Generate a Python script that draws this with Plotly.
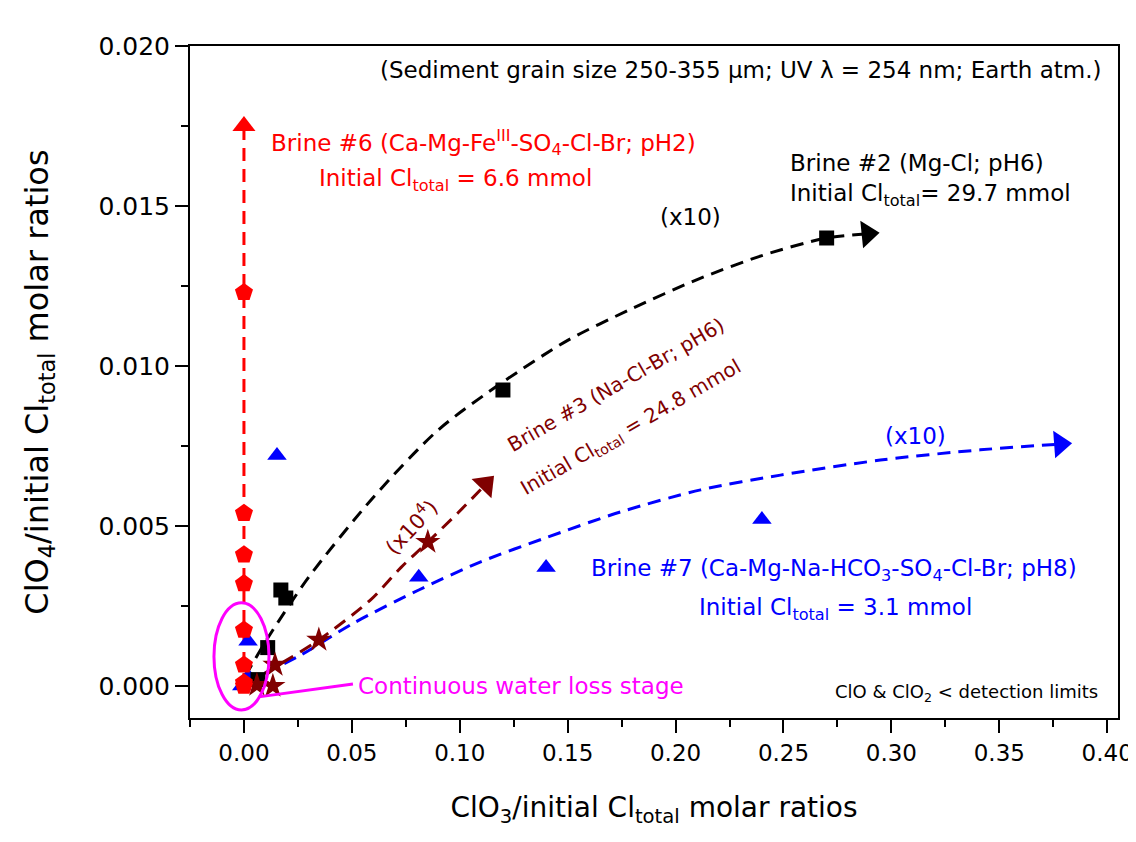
import plotly.graph_objects as go

# ---------------- data ----------------
# Brine #6 (red pentagons)
b6_x = [0.0, 0.0, 0.0, 0.0, 0.0, 0.0, 0.0, 0.0]
b6_y = [0.0123, 0.0054, 0.0041, 0.0032, 0.00175, 0.00066, 0.0001, 0.0]
b6_line_x = [0.0, 0.0]
b6_line_y = [0.0, 0.0175]

# Brine #2 (black squares)
b2_x = [0.0065, 0.011, 0.0171, 0.0194, 0.12, 0.27]
b2_y = [0.0002, 0.0012, 0.0030, 0.00275, 0.00925, 0.0140]
b2_line_x = [0.0005, 0.012, 0.03, 0.06, 0.09, 0.12, 0.15, 0.18, 0.21, 0.24, 0.27, 0.289]
b2_line_y = [0.0003, 0.0016, 0.0034, 0.0059, 0.0080, 0.0095, 0.0108, 0.0118, 0.0127,
             0.01345, 0.0140, 0.01413]

# Brine #3 (brown stars)
b3_x = [0.006, 0.0134, 0.0144, 0.0347, 0.0852]
b3_y = [0.00003, 0.0, 0.00066, 0.00144, 0.0045]
b3_line_x = [0.001, 0.0171, 0.0347, 0.0588, 0.0727, 0.0852, 0.099, 0.112]
b3_line_y = [0.00005, 0.0007, 0.00144, 0.0027, 0.0037, 0.0045, 0.0054, 0.0063]

# Brine #7 (blue triangles)
b7_x = [-0.001, 0.002, 0.0019, 0.0153, 0.081, 0.140, 0.24]
b7_y = [0.0, 0.0003, 0.0014, 0.0072, 0.0034, 0.0037, 0.0052]
b7_line_x = [0.001, 0.0264, 0.0509, 0.081, 0.1097, 0.1398, 0.1745, 0.2116,
             0.2486, 0.2949, 0.3412, 0.3782]
b7_line_y = [0.000125, 0.00097, 0.00197, 0.0030, 0.00388, 0.00463, 0.00544, 0.00613,
             0.00659, 0.00706, 0.00738, 0.00756]

# magenta pointer from ellipse to its label
ptr_x = [0.0069, 0.0505]
ptr_y = [-0.00034, 0.00006]
ell_x = [-0.0139, 0.0116]
ell_y = [-0.00075, 0.0026]

x_ticks = [0.00, 0.05, 0.10, 0.15, 0.20, 0.25, 0.30, 0.35, 0.40]
y_ticks = [0.000, 0.005, 0.010, 0.015, 0.020]

FONT = "DejaVu Sans, Arial, sans-serif"
RED, BLACK, BROWN, BLUE, MAG = "#FF0000", "#000000", "#800000", "#0000FF", "#FF00FF"
DASH = "13px,8px"
ASZ = 23  # annotation font size

fig = go.Figure()


def dashed(xs, ys, color, arrow_size):
    fig.add_trace(go.Scatter(x=xs, y=ys, mode="lines",
                             line=dict(color=color, width=3, dash=DASH, shape="spline", smoothing=0.8),
                             hoverinfo="skip", showlegend=False))
    sizes = [0] * (len(xs) - 1) + [arrow_size]
    fig.add_trace(go.Scatter(x=xs, y=ys, mode="markers",
                             marker=dict(symbol="triangle-up", size=sizes, color=color, opacity=1,
                                         angleref="previous", line=dict(width=0)),
                             hoverinfo="skip", showlegend=False))


dashed(b6_line_x, b6_line_y, RED, 20)
dashed(b2_line_x, b2_line_y, BLACK, 24)
dashed(b7_line_x, b7_line_y, BLUE, 24)
dashed(b3_line_x, b3_line_y, BROWN, 24)

fig.add_trace(go.Scatter(x=b7_x, y=b7_y, mode="markers",
                         marker=dict(symbol="triangle-up", size=17, color=BLUE, line=dict(width=0)),
                         showlegend=False))
fig.add_trace(go.Scatter(x=b2_x, y=b2_y, mode="markers",
                         marker=dict(symbol="square", size=15, color=BLACK, line=dict(width=0)),
                         showlegend=False))
fig.add_trace(go.Scatter(x=b3_x, y=b3_y, mode="markers",
                         marker=dict(symbol="star", size=19, color=BROWN, line=dict(width=0)),
                         showlegend=False))
fig.add_trace(go.Scatter(x=b6_x, y=b6_y, mode="markers",
                         marker=dict(symbol="pentagon", size=19, color=RED, line=dict(width=0)),
                         showlegend=False))
fig.add_trace(go.Scatter(x=ptr_x, y=ptr_y, mode="lines",
                         line=dict(color=MAG, width=3), showlegend=False, hoverinfo="skip"))

fig.add_shape(type="circle", xref="x", yref="y", x0=ell_x[0], x1=ell_x[1],
              y0=ell_y[0], y1=ell_y[1], line=dict(color=MAG, width=3), layer="above")


def ann(text, x, y, color, xanchor="center", angle=0, size=ASZ):
    fig.add_annotation(x=x, y=y, xref="x", yref="y", text=text, showarrow=False,
                       xanchor=xanchor, yanchor="middle", textangle=angle,
                       font=dict(family=FONT, size=size, color=color))


ann("(Sediment grain size 250-355 \u03bcm; UV \u03bb = 254 nm; Earth atm.)", 0.398, 0.01925, BLACK, "right")
ann("Brine #6 (Ca-Mg-Fe<sup>III</sup>-SO<sub>4</sub>-Cl-Br; pH2)", 0.0116, 0.01697, RED, "left")
ann("Initial Cl<sub>total</sub> = 6.6 mmol", 0.098, 0.01581, RED)
ann("Brine #2 (Mg-Cl; pH6)", 0.2519, 0.01634, BLACK, "left")
ann("Initial Cl<sub>total</sub>= 29.7 mmol", 0.2519, 0.01534, BLACK, "left")
ann("(x10)", 0.207, 0.01466, BLACK)
ann("Brine #3 (Na-Cl-Br; pH6)", 0.1722, 0.0094, BROWN, angle=-30, size=20)
ann("Initial Cl<sub>total</sub> = 24.8 mmol", 0.1792, 0.00806, BROWN, angle=-30, size=20)
ann("(x10<sup>4</sup>)", 0.0773, 0.0050, BROWN, angle=-47, size=21)
ann("(x10)", 0.311, 0.0078, BLUE)
ann("Brine #7 (Ca-Mg-Na-HCO<sub>3</sub>-SO<sub>4</sub>-Cl-Br; pH8)", 0.1597, 0.003625, BLUE, "left")
ann("Initial Cl<sub>total</sub> = 3.1 mmol", 0.274, 0.0024, BLUE)
ann("ClO & ClO<sub>2</sub> < detection limits", 0.3968, -0.00022, BLACK, "right", size=18)
ann("Continuous water loss stage", 0.0519, 0.0, MAG, "left")

axis_common = dict(showline=True, linecolor="black", linewidth=2, mirror=True,
                   ticks="outside", ticklen=13, tickwidth=2, tickcolor="black",
                   showgrid=False, zeroline=False)

fig.update_xaxes(range=[-0.025, 0.405], tickvals=x_ticks, tickformat=".2f",
                 tickfont=dict(family=FONT, size=23, color="black"),
                 minor=dict(dtick=0.025, tick0=0, ticks="outside", ticklen=7, tickwidth=2, tickcolor="black"),
                 title=dict(text="ClO<sub>3</sub>/initial Cl<sub>total</sub> molar ratios",
                            font=dict(family=FONT, size=28, color="black"), standoff=38),
                 **axis_common)
fig.update_yaxes(range=[-0.001, 0.020], tickvals=y_ticks, tickformat=".3f",
                 tickfont=dict(family=FONT, size=25, color="black"),
                 minor=dict(dtick=0.0025, tick0=0, ticks="outside", ticklen=7, tickwidth=2, tickcolor="black"),
                 title=dict(text="ClO<sub>4</sub>/initial Cl<sub>total</sub> molar ratios",
                            font=dict(family=FONT, size=32, color="black"), standoff=40),
                 **axis_common)

fig.update_layout(width=1128, height=820, margin=dict(l=182, r=18, t=38, b=110, autoexpand=False),
                  plot_bgcolor="white", paper_bgcolor="white", showlegend=False,
                  font=dict(family=FONT))

fig.write_html("out.html")
